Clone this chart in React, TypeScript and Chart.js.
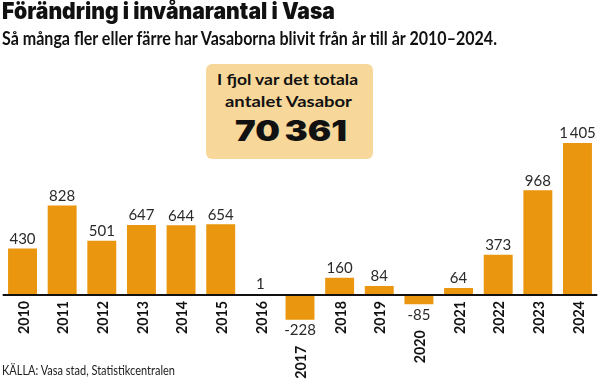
import React, { useEffect, useLayoutEffect, useRef } from "react";
import { Chart, registerables } from "chart.js";

Chart.register(...registerables);

const years: string[] = ["2010", "2011", "2012", "2013", "2014", "2015", "2016", "2017", "2018", "2019", "2020", "2021", "2022", "2023", "2024"];
const changes: number[] = [430, 828, 501, 647, 644, 654, 1, -228, 160, 84, -85, 64, 373, 968, 1405];
const valueLabels: string[] = ["430", "828", "501", "647", "644", "654", "1", "-228", "160", "84", "-85", "64", "373", "968", "1\u2009405"];

const titleText = "Förändring i invånarantal i Vasa";
const subtitleText = "Så många fler eller färre har Vasaborna blivit från år till år 2010–2024.";
const boxLine1 = "I fjol var det totala";
const boxLine2 = "antalet Vasabor";
const boxTotal = "70\u2009361";
const sourceText = "KÄLLA: Vasa stad, Statistikcentralen";

const BAR_COLOR = "#EA960E";
const BOX_COLOR = "#F8D89A";
const FONT = "Lato, 'Open Sans', sans-serif";
const HEAVY = "Inter, Lato, sans-serif";

type FitProps = {
  text: string;
  x: number;
  y: number;
  width: number;
  size: number;
  weight: number;
  color?: string;
  family?: string;
};

function FitText({ text, x, y, width, size, weight, color = "#111", family = FONT }: FitProps) {
  const ref = useRef<HTMLSpanElement>(null);
  useLayoutEffect(() => {
    const el = ref.current;
    if (!el) return;
    el.style.transform = "none";
    const w = el.getBoundingClientRect().width;
    if (w > 0) el.style.transform = `scaleX(${width / w})`;
  }, [text, width]);
  return (
    <span
      ref={ref}
      style={{
        position: "absolute",
        left: x,
        top: y,
        fontFamily: family,
        fontSize: size,
        fontWeight: weight,
        lineHeight: 1,
        whiteSpace: "nowrap",
        color,
        transformOrigin: "left top",
        display: "inline-block",
      }}
    >
      {text}
    </span>
  );
}

const labelPlugin = {
  id: "barLabels",
  afterDatasetsDraw(chart: any) {
    const ctx: CanvasRenderingContext2D = chart.ctx;
    const meta = chart.getDatasetMeta(0);
    const yScale = chart.scales.y;
    const zeroY = yScale.getPixelForValue(0);
    const area = chart.chartArea;

    ctx.save();
    ctx.strokeStyle = "#111";
    ctx.lineWidth = 2;
    ctx.beginPath();
    ctx.moveTo(area.left, zeroY);
    ctx.lineTo(area.right, zeroY);
    ctx.stroke();
    ctx.restore();

    meta.data.forEach((bar: any, i: number) => {
      const v = changes[i];
      ctx.save();
      ctx.fillStyle = "#2a2a2a";
      ctx.font = `400 15px ${FONT}`;
      ctx.textAlign = "center";
      let yearTop: number;
      if (v >= 0) {
        ctx.textBaseline = "bottom";
        ctx.fillText(valueLabels[i], bar.x, Math.min(bar.y, zeroY - 1) - 2);
        yearTop = zeroY + 6;
      } else {
        ctx.textBaseline = "top";
        ctx.fillText(valueLabels[i], bar.x, bar.y + 3);
        yearTop = bar.y + 26;
      }
      ctx.restore();

      ctx.save();
      ctx.translate(bar.x, yearTop);
      ctx.rotate(-Math.PI / 2);
      ctx.fillStyle = "#111";
      ctx.font = `700 16px ${FONT}`;
      ctx.textAlign = "right";
      ctx.textBaseline = "middle";
      ctx.fillText(years[i], 0, 1, 33);
      ctx.restore();
    });
  },
};

export default function App() {
  const canvasRef = useRef<HTMLCanvasElement>(null);

  useEffect(() => {
    const canvas = canvasRef.current;
    if (!canvas) return;
    const chart = new Chart(canvas, {
      type: "bar",
      data: {
        labels: years,
        datasets: [
          {
            data: changes,
            backgroundColor: BAR_COLOR,
            borderWidth: 0,
            categoryPercentage: 1,
            barPercentage: 0.73,
          },
        ],
      },
      options: {
        responsive: false,
        animation: false,
        devicePixelRatio: 1,
        layout: { padding: { left: 2.7, right: 2.7, top: 143, bottom: 59.5 } },
        plugins: { legend: { display: false }, tooltip: { enabled: false }, title: { display: false } },
        scales: {
          x: { display: false },
          y: { display: false, min: -300, max: 1405 },
        },
      },
      plugins: [labelPlugin],
    });
    return () => chart.destroy();
  }, []);

  return (
    <div style={{ position: "absolute", left: 0, top: 0, width: 600, height: 387, background: "#fff", overflow: "hidden" }}>
      <canvas ref={canvasRef} width={600} height={387} style={{ position: "absolute", left: 0, top: 0 }} />
      <FitText text={titleText} x={2} y={0} width={333} size={23} weight={900} family={HEAVY} />
      <FitText text={subtitleText} x={2} y={29} width={495} size={18} weight={700} />
      <div style={{ position: "absolute", left: 206, top: 64, width: 167, height: 95, background: BOX_COLOR, borderRadius: 6 }} />
      <FitText text={boxLine1} x={217} y={72} width={141} size={15.5} weight={700} />
      <FitText text={boxLine2} x={225} y={94} width={127} size={15.5} weight={700} />
      <FitText text={boxTotal} x={235} y={117} width={112} size={28} weight={900} family={HEAVY} />
      <FitText text={sourceText} x={2} y={363} width={173} size={14} weight={400} color="#222" />
    </div>
  );
}
